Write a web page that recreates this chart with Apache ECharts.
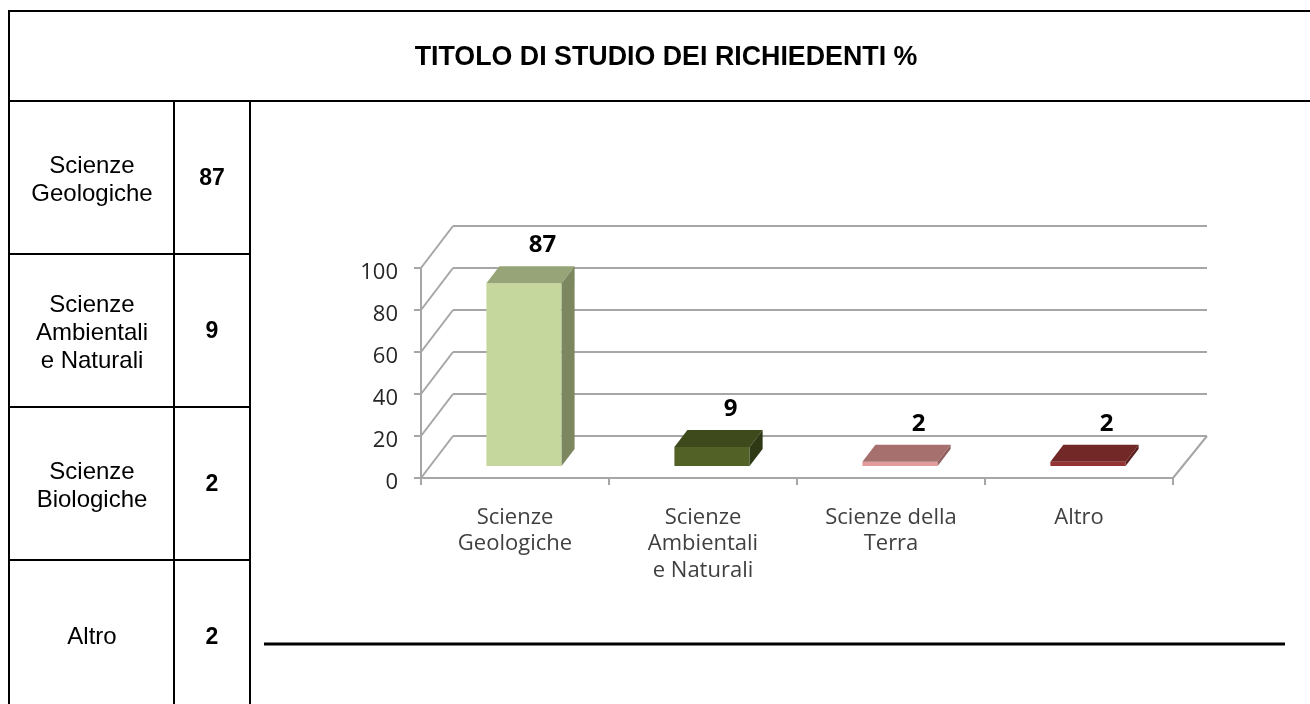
<!DOCTYPE html>
<html>
<head>
<meta charset="utf-8">
<script src="https://cdn.jsdelivr.net/npm/echarts@6/dist/echarts.min.js"></script>
<style>
  html, body { margin: 0; padding: 0; background: #fff; overflow: hidden; }
  #main { width: 1310px; height: 704px; }
</style>
</head>
<body>
<div id="main"></div>
<script>
  // chart data
  var categories = ['Scienze\nGeologiche', 'Scienze\nAmbientali\ne Naturali', 'Scienze della\nTerra', 'Altro'];
  var values = [87, 9, 2, 2];
  var valueTicks = [0, 20, 40, 60, 80, 100];

  // table on the left
  var tableTitle = 'TITOLO DI STUDIO DEI RICHIEDENTI %';
  var rowLabels = ['Scienze\nGeologiche', 'Scienze\nAmbientali\ne Naturali', 'Scienze\nBiologiche', 'Altro'];
  var rowValues = ['87', '9', '2', '2'];

  // bar colours: front, top, side
  var barColors = [
    ['#c5d79c', '#96a478', '#7c8760'],
    ['#526126', '#3e4a1c', '#2f3915'],
    ['#e39c9c', '#a6706e', '#8f5e5c'],
    ['#943333', '#722826', '#5b1f1e']
  ];

  var wallColor = '#a6a6a6';
  var depthX = 32, depthY = 42;      // floor depth
  var barOffX = 9, barOffY = 12;     // where the bars stand on the floor
  var barDepthX = 13, barDepthY = 17;

  function line(x1, y1, x2, y2, color, width) {
    return {
      type: 'line',
      shape: { x1: x1, y1: y1, x2: x2, y2: y2 },
      style: { stroke: color, lineWidth: width }
    };
  }

  function poly(points, color) {
    return { type: 'polygon', shape: { points: points }, style: { fill: color } };
  }

  // back wall lines and the side lines for each tick
  function renderWall(params, api) {
    var sys = params.coordSys;
    var y = api.coord([0, api.value(0)])[1];
    var kids = [
      line(sys.x, y, sys.x + depthX, y - depthY, wallColor, 2),
      line(sys.x + depthX, y - depthY, sys.x + sys.width + depthX + 2, y - depthY, wallColor, 2)
    ];
    if (api.value(0) === 0) {
      kids.push(line(sys.x + sys.width, y, sys.x + sys.width + depthX + 2, y - depthY, wallColor, 2));
    }
    return { type: 'group', children: kids };
  }

  function renderBar(params, api) {
    var i = api.value(0), v = api.value(1);
    var p = api.coord([i, 0]);
    var band = api.size([1, 0])[0];
    var h = api.size([0, v])[1];
    var w = band * 0.4;
    var l = p[0] + barOffX - w / 2, r = l + w;
    var b = p[1] - barOffY, t = b - h;
    var c = barColors[i];
    return {
      type: 'group',
      children: [
        poly([[l, b], [r, b], [r, t], [l, t]], c[0]),
        poly([[l, t], [r, t], [r + barDepthX, t - barDepthY], [l + barDepthX, t - barDepthY]], c[1]),
        poly([[r, b], [r + barDepthX, b - barDepthY], [r + barDepthX, t - barDepthY], [r, t]], c[2]),
        {
          type: 'text',
          style: {
            text: String(v),
            x: l + w / 2 + barDepthX / 2 + 12,
            y: t - barDepthY - 21,
            align: 'center',
            verticalAlign: 'middle',
            font: 'bold 24px "Open Sans"',
            fill: '#000'
          }
        }
      ]
    };
  }

  // table built with graphic elements
  var black = '#000';
  var rowTop = 101, rowH = 153;
  var tableGraphic = [
    line(8, 11, 1310, 11, black, 2),
    line(9, 101, 1310, 101, black, 2),
    line(9, 10, 9, 704, black, 2),
    line(174, 101, 174, 704, black, 2),
    line(250, 101, 250, 704, black, 2),
    line(264, 644, 1285, 644, black, 3),
    {
      type: 'text',
      style: {
        text: tableTitle, x: 666, y: 58, align: 'center', verticalAlign: 'middle',
        font: 'bold 26.8px "Liberation Sans"', fill: '#000'
      }
    }
  ];
  rowLabels.forEach(function (label, i) {
    var cy = rowTop + rowH * i + rowH / 2;
    var shift = label.indexOf('\n') >= 0 ? 3 : 1;
    if (i > 0) tableGraphic.push(line(9, rowTop + rowH * i, 250, rowTop + rowH * i, black, 2));
    tableGraphic.push({
      type: 'text',
      style: {
        text: label, x: 92, y: cy + shift, align: 'center', verticalAlign: 'middle', lineHeight: 28,
        font: '24px "Liberation Sans"', fill: '#000'
      }
    });
    tableGraphic.push({
      type: 'text',
      style: {
        text: rowValues[i], x: 212, y: cy + 1, align: 'center', verticalAlign: 'middle',
        font: 'bold 23px "Liberation Sans"', fill: '#000'
      }
    });
  });

  var myChart = echarts.init(document.getElementById('main'));

  var option = {
    animation: false,
    backgroundColor: '#fff',
    graphic: tableGraphic,
    grid: { left: 421, right: 137, top: 268, bottom: 226 },
    xAxis: {
      type: 'category',
      data: categories,
      axisLine: { lineStyle: { color: wallColor, width: 2 } },
      axisTick: { show: true, length: 7, lineStyle: { color: wallColor, width: 2 } },
      axisLabel: {
        margin: 26, interval: 0, lineHeight: 26.5,
        fontFamily: 'Open Sans', fontSize: 22, color: '#404040'
      }
    },
    yAxis: {
      type: 'value',
      min: 0,
      max: 100,
      interval: 20,
      splitLine: { show: false },
      axisLine: { show: true, lineStyle: { color: wallColor, width: 2 } },
      axisTick: { show: true, length: 7, lineStyle: { color: wallColor, width: 2 } },
      // top aligned with a short line box, the labels sit a little under the tick
      axisLabel: {
        margin: 23, verticalAlign: 'top', lineHeight: 10,
        fontFamily: 'Open Sans', fontSize: 22, color: '#262626'
      }
    },
    series: [
      {
        type: 'custom',
        silent: true,
        z: 1,
        renderItem: renderWall,
        encode: { y: 0 },
        data: valueTicks.map(function (t) { return [t]; })
      },
      {
        type: 'custom',
        z: 3,
        renderItem: renderBar,
        encode: { x: 0, y: 1 },
        data: values.map(function (v, i) { return [i, v]; })
      }
    ]
  };

  myChart.setOption(option);
</script>
</body>
</html>
